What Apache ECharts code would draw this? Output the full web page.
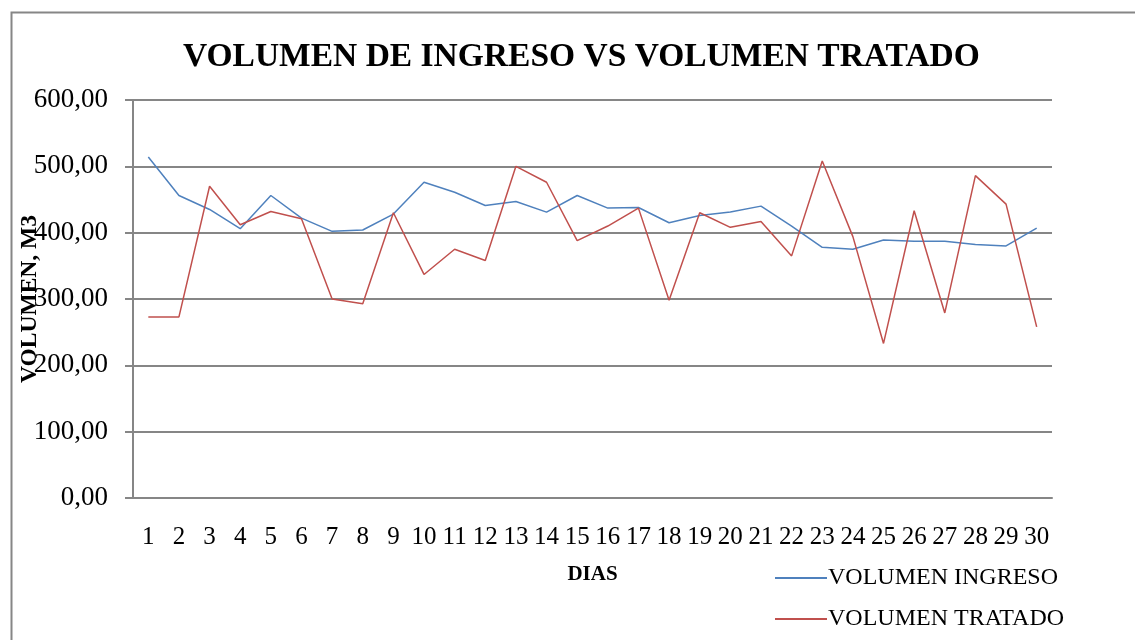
<!DOCTYPE html>
<html>
<head>
<meta charset="utf-8">
<script src="https://cdn.jsdelivr.net/npm/echarts@6/dist/echarts.min.js"></script>
<style>
html,body{margin:0;padding:0;background:#fff;}
#chart{width:1135px;height:640px;}
</style>
</head>
<body>
<div id="chart"></div>
<script>
const categories = ['1','2','3','4','5','6','7','8','9','10','11','12','13','14','15','16','17','18','19','20','21','22','23','24','25','26','27','28','29','30'];
const volumenIngreso = [514,456,435,406,456,422,402,404,428,476,461,441,447,431,456,437,438,415,426,431,440,410,378,375,389,387,387,382,380,407];
const volumenTratado = [273,273,470,412,432,421,300,293,430,337,375,358,500,476,388,410,437,298,430,408,417,365,508,394,233,433,279,486,443,258];
const yTicks = [0,100,200,300,400,500,600];

const FONT = '"Liberation Serif", "DejaVu Serif", serif';
const chart = echarts.init(document.getElementById('chart'));
chart.setOption({
  animation: false,
  backgroundColor: '#ffffff',
  title: {
    text: 'VOLUMEN DE INGRESO VS VOLUMEN TRATADO',
    left: 178, top: 35,
    textStyle: {fontFamily: FONT, fontSize: 33.5, fontWeight: 'bold', color: '#000'}
  },
  grid: {left: 133, right: 83, top: 100, bottom: 142, containLabel: false, outerBoundsMode: 'none'},
  legend: {
    orient: 'vertical', left: 769, top: 561, itemGap: 17,
    itemWidth: 52, itemHeight: 2,
    textStyle: {fontFamily: FONT, fontSize: 24, color: '#000', padding: [0,0,0,-4]},
    data: ['VOLUMEN INGRESO', 'VOLUMEN TRATADO']
  },
  xAxis: {
    type: 'category', data: categories, boundaryGap: true,
    name: 'DIAS', nameLocation: 'middle', nameGap: 66,
    nameTextStyle: {fontFamily: FONT, fontSize: 21, fontWeight: 'bold', color: '#000'},
    axisLine: {lineStyle: {color: '#868686', width: 2}},
    axisTick: {show: false},
    axisLabel: {interval: 0, margin: 27, fontFamily: FONT, fontSize: 25, color: '#000'}
  },
  yAxis: {
    type: 'value', min: yTicks[0], max: yTicks[yTicks.length-1], interval: 100,
    name: 'VOLUMEN, M3', nameLocation: 'middle', nameGap: 91, nameRotate: 90,
    nameMoveOverlap: false,
    nameTextStyle: {fontFamily: FONT, fontSize: 23.5, fontWeight: 'bold', color: '#000'},
    axisLine: {show: true, lineStyle: {color: '#868686', width: 2}},
    axisTick: {show: true, length: 8, lineStyle: {color: '#868686', width: 2}},
    splitLine: {lineStyle: {color: '#868686', width: 2}},
    axisLabel: {margin: 25, fontFamily: FONT, fontSize: 27, color: '#000',
      formatter: v => v.toFixed(2).replace('.', ',')}
  },
  series: [
    {name: 'VOLUMEN INGRESO', type: 'line', data: volumenIngreso, symbol: 'none',
     lineStyle: {color: '#4f81bd', width: 1.5}, itemStyle: {color: '#4f81bd'}},
    {name: 'VOLUMEN TRATADO', type: 'line', data: volumenTratado, symbol: 'none',
     lineStyle: {color: '#c0504d', width: 1.5}, itemStyle: {color: '#c0504d'}}
  ],
  graphic: [{
    type: 'rect', left: 9, top: 10, silent: true,
    shape: {x: 0, y: 0, width: 1140, height: 650},
    style: {fill: 'none', stroke: '#868686', lineWidth: 2}
  }]
});
</script>
</body>
</html>
